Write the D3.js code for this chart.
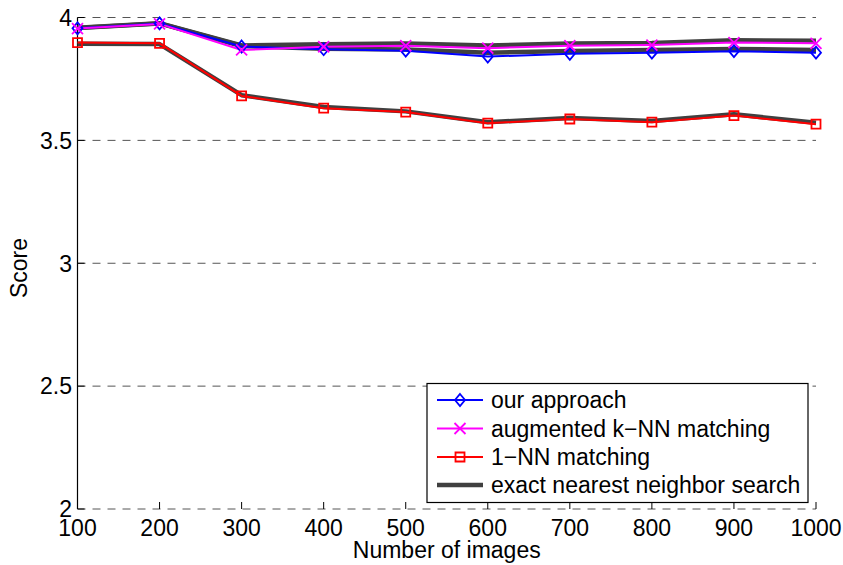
<!DOCTYPE html>
<html>
<head>
<meta charset="utf-8">
<script src="https://cdn.jsdelivr.net/npm/d3@7"></script>
<style>
  body { margin: 0; background: #fff; }
  svg { display: block; font-family: "Liberation Sans", Arial, Helvetica, sans-serif; }
</style>
</head>
<body>
<svg id="chart" width="843" height="565"></svg>
<script>
// data
const images = [100, 200, 300, 400, 500, 600, 700, 800, 900, 1000];
const ourApproach = [3.956, 3.976, 3.882, 3.871, 3.865, 3.841, 3.852, 3.857, 3.863, 3.857];
const augmentedKnn = [3.955, 3.974, 3.868, 3.881, 3.885, 3.875, 3.885, 3.888, 3.898, 3.895];
const oneNN = [3.898, 3.895, 3.681, 3.631, 3.615, 3.570, 3.587, 3.574, 3.601, 3.566];
// exact search, one curve under each method
const exactOurs = [3.957, 3.976, 3.884, 3.873, 3.870, 3.857, 3.864, 3.868, 3.872, 3.868];
const exactAug = [3.958, 3.977, 3.886, 3.891, 3.894, 3.886, 3.894, 3.896, 3.907, 3.905];
const exactOneNN = [3.893, 3.892, 3.684, 3.636, 3.618, 3.574, 3.591, 3.579, 3.606, 3.572];
const yTicks = [2, 2.5, 3, 3.5, 4];
const legendLabels = ["our approach", "augmented k\u2212NN matching", "1\u2212NN matching", "exact nearest neighbor search"];

const svg = d3.select("#chart");
const x = d3.scaleLinear().domain([100, 1000]).range([77.5, 816]);
const y = d3.scaleLinear().domain([2, 4]).range([509, 17.5]);
const FONT = 23;

// dashed grid
svg.append("g").selectAll("line").data(yTicks).join("line")
  .attr("x1", x(100)).attr("x2", x(1000))
  .attr("y1", d => y(d)).attr("y2", d => y(d))
  .attr("stroke", "#555").attr("stroke-width", 1)
  .attr("stroke-dasharray", "8,7");

// left axis line + ticks
svg.append("line")
  .attr("x1", x(100)).attr("x2", x(100))
  .attr("y1", y(4)).attr("y2", y(2))
  .attr("stroke", "#000").attr("stroke-width", 1.2);
svg.append("g").selectAll("line").data(images).join("line")
  .attr("x1", d => x(d)).attr("x2", d => x(d))
  .attr("y1", y(2)).attr("y2", y(2) - 7)
  .attr("stroke", "#000");
svg.append("g").selectAll("line").data(yTicks).join("line")
  .attr("x1", x(100)).attr("x2", x(100) + 7)
  .attr("y1", d => y(d)).attr("y2", d => y(d))
  .attr("stroke", "#000");

// tick labels
svg.append("g").selectAll("text").data(images).join("text")
  .attr("x", d => x(d)).attr("y", y(2) + 27)
  .attr("text-anchor", "middle").attr("font-size", FONT)
  .text(d => d);
svg.append("g").selectAll("text").data(yTicks).join("text")
  .attr("x", 72).attr("y", d => y(d)).attr("dy", "0.36em")
  .attr("text-anchor", "end").attr("font-size", FONT)
  .text(d => String(d));

// axis titles
svg.append("text")
  .attr("x", (x(100) + x(1000)) / 2).attr("y", 558)
  .attr("text-anchor", "middle").attr("font-size", FONT)
  .text("Number of images");
svg.append("text")
  .attr("transform", "translate(27," + 268 + ") rotate(-90)")
  .attr("text-anchor", "middle").attr("font-size", FONT)
  .text("Score");

const line = d3.line().x((d, i) => x(images[i])).y(d => y(d));

// gray exact-search curves go underneath
[exactAug, exactOurs, exactOneNN].forEach(arr => {
  svg.append("path").datum(arr)
    .attr("d", line)
    .attr("fill", "none").attr("stroke", "#404040")
    .attr("stroke-width", 4.5).attr("stroke-linejoin", "round");
});

const series = [
  { vals: ourApproach, color: "#0000ff", marker: "diamond" },
  { vals: augmentedKnn, color: "#ff00ff", marker: "cross" },
  { vals: oneNN, color: "#ff0000", marker: "square" }
];

function markerPath(type) {
  if (type == "diamond") return "M0,-6L5,0L0,6L-5,0Z";
  if (type == "square") return "M-4.5,-4.5H4.5V4.5H-4.5Z";
  return "M-5.5,-5.5L5.5,5.5M-5.5,5.5L5.5,-5.5";
}

series.forEach(s => {
  svg.append("path").datum(s.vals)
    .attr("d", line)
    .attr("fill", "none").attr("stroke", s.color)
    .attr("stroke-width", 2).attr("stroke-linejoin", "round");
});
series.forEach(s => {
  svg.append("g").selectAll("path").data(s.vals).join("path")
    .attr("transform", (d, i) => "translate(" + x(images[i]) + "," + y(d) + ")")
    .attr("d", markerPath(s.marker))
    .attr("fill", "none").attr("stroke", s.color).attr("stroke-width", 1.8);
});

// legend
const lg = svg.append("g");
lg.append("rect")
  .attr("x", 427).attr("y", 383.5).attr("width", 381).attr("height", 119)
  .attr("fill", "#fff").attr("stroke", "#000").attr("stroke-width", 1.2);
const rows = [400, 428.5, 457, 485];
legendLabels.forEach((label, i) => {
  const ry = rows[i];
  const s = series[i];
  lg.append("line")
    .attr("x1", 437).attr("x2", 483).attr("y1", ry).attr("y2", ry)
    .attr("stroke", s ? s.color : "#404040").attr("stroke-width", s ? 2 : 4.5);
  if (s) {
    lg.append("path")
      .attr("transform", "translate(460," + ry + ")")
      .attr("d", markerPath(s.marker))
      .attr("fill", "none").attr("stroke", s.color).attr("stroke-width", 1.8);
  }
  lg.append("text")
    .attr("x", 491).attr("y", ry).attr("dy", "0.36em")
    .attr("font-size", FONT)
    .text(label);
});
</script>
</body>
</html>
